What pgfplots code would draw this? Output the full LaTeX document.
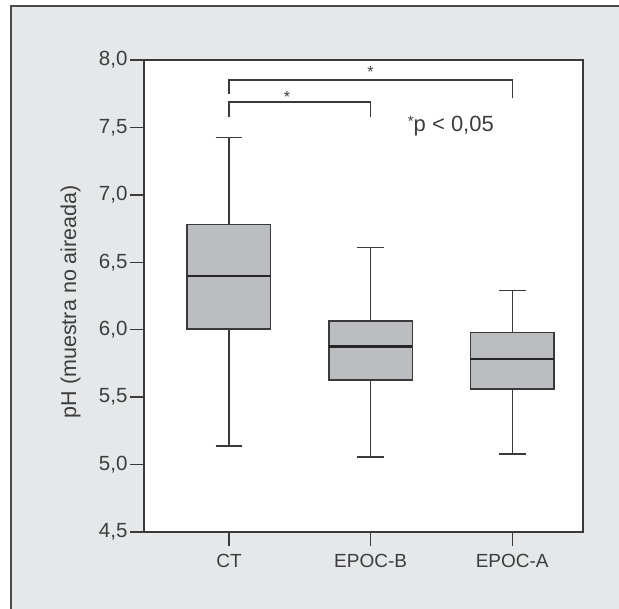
\documentclass[border=0pt]{standalone}
\usepackage{fontspec}
\setmainfont{Liberation Sans}
\usepackage{pgfplots}
\pgfplotsset{compat=1.18}
\usepgfplotslibrary{statistics}
\definecolor{bgc}{HTML}{E6E7E8}
\definecolor{boxc}{HTML}{BCBDC0}
\definecolor{linec}{HTML}{3A3A3A}
\definecolor{textc}{HTML}{3D3D3D}
\definecolor{framec}{HTML}{4A4A4A}
\begin{document}
\begin{tikzpicture}
\fill[white] (0pt,0pt) rectangle (619pt,-609pt);
\fill[bgc] (11pt,-6pt) rectangle (619pt,-609pt);
\draw[line width=1.7pt, framec] (11pt,-609pt) -- (11pt,-6pt) -- (619pt,-6pt);
\begin{axis}[
  at={(144pt,-532pt)}, anchor=south west,
  scale only axis, width=439pt, height=472pt,
  xmin=0.4, xmax=3.5, ymin=4.5, ymax=8,
  xtick={1,2,3}, xticklabels={CT,EPOC-B,EPOC-A},
  ytick={4.5,5,5.5,6,6.5,7,7.5,8},
  xtick pos=left, ytick pos=left,
  tick align=outside, major tick length=14pt,
  every tick/.style={line width=1.3pt, linec},
  axis line style={line width=1.5pt, linec},
  axis background/.style={fill=white},
  /pgf/number format/.cd, fixed, fixed zerofill, precision=1, use comma, assume math mode=true,
  /pgfplots/.cd,
  tick label style={font=\fontsize{19}{22}\selectfont, text=textc},
  yticklabel style={font=\fontsize{20.5}{22}\selectfont, xshift=1pt},
  xticklabel style={yshift=-5pt},
  ylabel={pH (muestra no aireada)},
  ylabel style={font=\fontsize{21.5}{24}\selectfont, text=textc, at={(axis description cs:-0.167,0.488)}, anchor=center},
  boxplot/draw direction=y,
  boxplot/box extend=0.59,
  boxplot/whisker extend=0.19,
  boxplot/every median/.style={line width=2.4pt, draw=black!85},
  boxplot/every box/.style={line width=1.5pt, draw=linec, fill=boxc},
  boxplot/every whisker/.style={line width=1.3pt, draw=linec},
]
\addplot[boxplot prepared={lower whisker=5.137, lower quartile=6.007, median=6.398, upper quartile=6.779, upper whisker=7.423, draw position=1}] coordinates {};
\addplot[boxplot prepared={lower whisker=5.056, lower quartile=5.628, median=5.875, upper quartile=6.063, upper whisker=6.61, draw position=2}] coordinates {};
\addplot[boxplot prepared={lower whisker=5.078, lower quartile=5.561, median=5.781, upper quartile=5.979, upper whisker=6.29, draw position=3}] coordinates {};
% significance brackets
\draw[line width=1.3pt, linec] (axis cs:1,7.747) -- (axis cs:1,7.851) -- (axis cs:3,7.851) -- (axis cs:3,7.718);
\draw[line width=1.3pt, linec] (axis cs:1,7.577) -- (axis cs:1,7.688) -- (axis cs:2,7.688) -- (axis cs:2,7.577);
\node[text=textc, font=\fontsize{16}{16}\selectfont, inner sep=0pt] at (axis cs:2,7.91) {*};
\node[text=textc, font=\fontsize{16}{16}\selectfont, inner sep=0pt] at (axis cs:1.41,7.725) {*};
\node[text=textc, font=\fontsize{22}{24}\selectfont, inner sep=0pt, anchor=west] at (axis cs:2.262,7.51) {\raisebox{0.5ex}{\fontsize{15}{15}\selectfont *}p < 0,05};
\end{axis}
\pgfresetboundingbox
\useasboundingbox (0pt,0pt) rectangle (619pt,-609pt);
\end{tikzpicture}
\end{document}
